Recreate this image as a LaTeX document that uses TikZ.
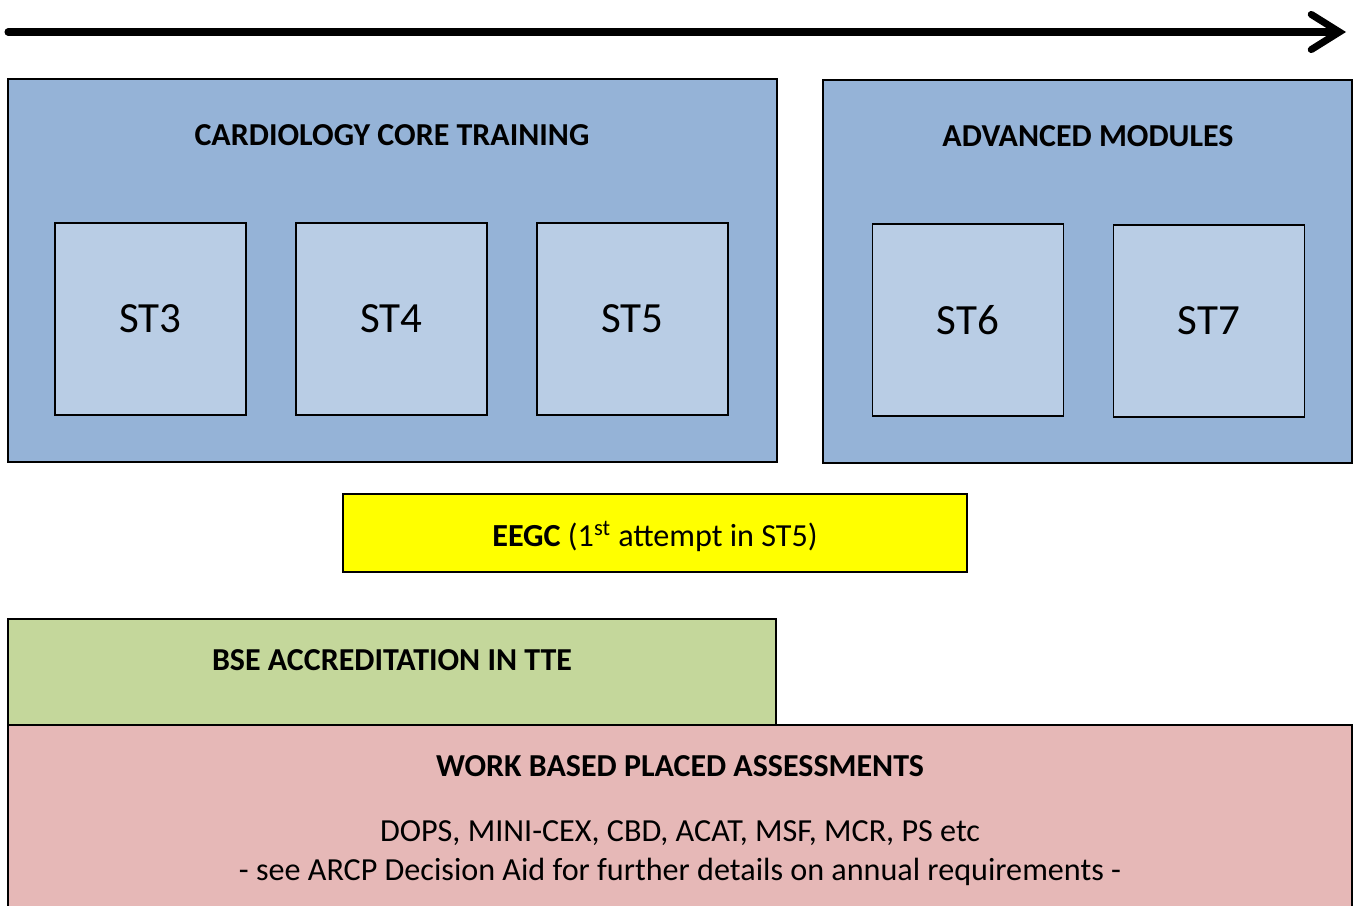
\documentclass[tikz,border=0pt]{standalone}
\usepackage{fontspec}
\setmainfont{Carlito}
\usepackage{tikz}
\usetikzlibrary{arrows.meta}
\definecolor{outerblue}{HTML}{95B3D7}
\definecolor{innerblue}{HTML}{B9CDE5}
\definecolor{eegcyellow}{HTML}{FFFF00}
\definecolor{bsegreen}{HTML}{C4D79B}
\definecolor{wbparose}{HTML}{E6B8B7}

\begin{document}
\begin{tikzpicture}
      [x = .02cm, y = -.02cm, line width = 1pt,
       panel/.style = {draw, inner sep = 0pt},
       title/.style = {font = \fontsize{18.2}{21}\selectfont\bfseries},
       plain/.style = {font = \fontsize{18.3}{22}\selectfont},
       stage/.style = {panel, fill = innerblue, minimum width = 3.82cm,
                       minimum height = 3.84cm, font = \fontsize{24.5}{29}\selectfont}]
      \useasboundingbox (0,0) rectangle (1356,906);
      % time line
      \coordinate (tstart) at (8,32);
      \coordinate (tend) at (1346,32);
      \draw[line width = 4pt, line cap = round,
            -{Straight Barb[length = 16pt, width = 20pt, line cap = round]}]
            (tstart) -- (tend);
      % training blocks
      \node[panel, fill = outerblue, minimum width = 15.38cm, minimum height = 7.66cm]
            (core) at (392.5,270.5) {};
      \node[panel, fill = outerblue, minimum width = 10.58cm, minimum height = 7.66cm]
            (adv) at (1087.5,271.5) {};
      \node[title] (coretitle) at (392,135) {CARDIOLOGY CORE TRAINING};
      \node[title] (advtitle) at (1088,136) {ADVANCED MODULES};
      \foreach \n/\x/\y in {3/150.5/319, 4/391.5/319, 5/632.5/319, 6/968/320, 7/1209/321}
        \node[stage] (st\n) at (\x,\y) {ST\n};
      % exam
      \node[panel, fill = eegcyellow, minimum width = 12.48cm, minimum height = 1.56cm]
            (eegc) at (655,533) {};
      \node[plain] (eegctext) at (655,536)
            {\textbf{EEGC} (1\textsuperscript{st} attempt in ST5)};
      % assessments
      \node[panel, fill = wbparose, minimum width = 26.88cm, minimum height = 3.8cm]
            (wbpa) at (680,820) {};
      \node[panel, fill = bsegreen, minimum width = 15.36cm, minimum height = 2.12cm]
            (bse) at (392,672) {};
      \node[title] (bsetitle) at (392,660) {BSE ACCREDITATION IN TTE};
      \node[title] (wbpatitle) at (680,766) {WORK BASED PLACED ASSESSMENTS};
      \node[plain] (wbpalist) at (680,833) {DOPS, MINI-CEX, CBD, ACAT, MSF, MCR, PS etc};
      \node[plain] (wbpanote) at (680,872)
            {- see ARCP Decision Aid for further details on annual requirements -};
\end{tikzpicture}
\end{document}
